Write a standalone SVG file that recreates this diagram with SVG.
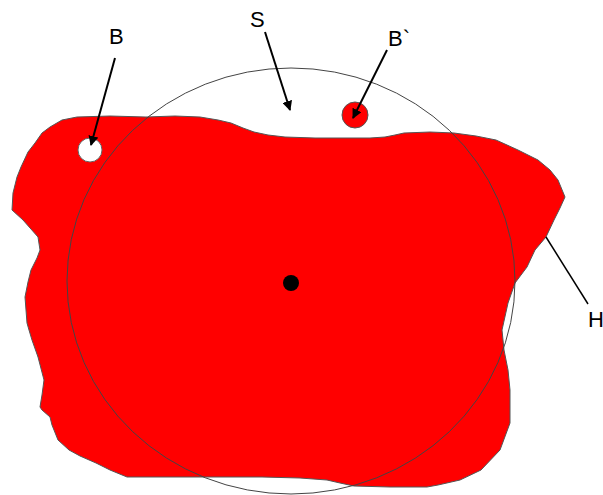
<svg xmlns="http://www.w3.org/2000/svg" width="603" height="495" viewBox="0 0 603 495">
<style>
.lbl{font-family:"Liberation Sans",Arial,sans-serif;font-size:22px;fill:#000}
.arr{stroke:#000;stroke-width:2;fill:none}
</style>
<defs>
<marker id="ah" viewBox="0 0 10 10" refX="9" refY="5" markerWidth="5" markerHeight="5" orient="auto" markerUnits="strokeWidth">
<path d="M0,0 L10,5 L0,10 Z" fill="#000"/>
</marker>
</defs>
<rect width="603" height="495" fill="#fff"/>
<g id="region-H">
<path d="M50,127 L62,120 L77,117 L110,116 L146,117 L175,116 L200,117 L218,120 L231,123 L243,128 L254,132 L268,135 L285,137 L315,138 L346,138 L370,138 L385,137 L395,135 L404,133 L430,132 L454,133 L476,136 L496,140 L518,150 L538,160 L550,170 L558,180 L565,197 L560,208 L554,220 L546,237 L535,250 L527,267 L515,283 L508,303 L502,330 L504,350 L508,370 L510,390 L510,423 L500,450 L481,470 L460,480 L438,485 L427,487 L390,487 L354,486 L340,483 L327,480 L300,478 L262,477 L127,477 L110,470 L96,463 L80,456 L69,450 L58,440 L52,425 L50,417 L42,410 L40,407 L42,395 L44,380 L38,357 L32,340 L29,330 L27,323 L25,297 L28,282 L31,270 L37,258 L40,250 L38,237 L23,220 L12,210 L13,193 L17,177 L21,167 L28,152 L35,143 L42,133 Z" fill="#ff0000" stroke="#555" stroke-width="1" stroke-linejoin="round"/>
</g>
<g id="hole-B">
<circle cx="90" cy="150" r="12" fill="#fff" stroke="#666" stroke-width="1"/>
</g>
<g id="sphere-S">
<ellipse cx="291" cy="281" rx="224" ry="213" fill="none" stroke="#444" stroke-width="1"/>
</g>
<g id="ball-Bprime">
<circle cx="355" cy="115" r="13" fill="#ff0000" stroke="#555" stroke-width="1"/>
</g>
<g id="center">
<circle cx="291" cy="283" r="8" fill="#000"/>
</g>
<g id="connectors">
<line class="arr" x1="115" y1="58" x2="91" y2="145" marker-end="url(#ah)"/>
<line class="arr" x1="265" y1="32" x2="290" y2="110" marker-end="url(#ah)"/>
<line class="arr" x1="387" y1="50" x2="353" y2="118" marker-end="url(#ah)"/>
<line x1="546" y1="237" x2="588" y2="304" stroke="#000" stroke-width="1.5"/>
</g>
<g id="labels">
<text class="lbl" x="109" y="44">B</text>
<text class="lbl" x="250" y="27">S</text>
<text class="lbl" x="388" y="46">B`</text>
<text class="lbl" x="588" y="327">H</text>
</g>
</svg>
